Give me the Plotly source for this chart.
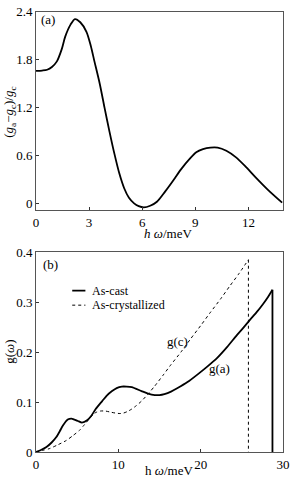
import plotly.graph_objects as go

# Panel (a): (g_a - g_c)/g_c vs h*omega
a_x = [0, 0.35, 0.63, 0.9, 1.18, 1.45, 1.65, 1.95, 2.2, 2.5, 2.85, 3.1, 3.3, 3.6, 3.87, 4.15, 4.43, 4.7, 4.98, 5.25, 5.54, 5.8, 6.09, 6.45, 6.83, 7.3, 7.76, 8.2, 8.69, 9.05, 9.43, 9.85, 10.26, 10.75, 11.28, 11.8, 12.39, 13.1, 13.9]
a_y = [1.66, 1.665, 1.675, 1.71, 1.78, 1.93, 2.09, 2.24, 2.31, 2.27, 2.15, 1.97, 1.78, 1.50, 1.20, 0.90, 0.62, 0.38, 0.19, 0.07, 0.0, -0.035, -0.05, -0.03, 0.02, 0.15, 0.29, 0.43, 0.56, 0.64, 0.68, 0.70, 0.70, 0.66, 0.58, 0.47, 0.33, 0.17, 0.01]

# Panel (b): g(omega)
cast_x = [0, 0.6, 1.27, 1.9, 2.47, 2.9, 3.27, 3.86, 4.3, 4.66, 5.1, 5.58, 6.25, 6.7, 7.25, 8.04, 8.6, 9.24, 9.8, 10.43, 11.0, 11.63, 12.82, 13.6, 14.42, 15.0, 15.6, 16.4, 17.2, 18.4, 19.6, 20.8, 21.98, 23.2, 24.4, 25.2, 25.96, 26.8, 27.56, 28.2, 28.72]
cast_y = [0.0, 0.004, 0.01, 0.019, 0.03, 0.042, 0.053, 0.065, 0.067, 0.065, 0.062, 0.059, 0.064, 0.072, 0.086, 0.102, 0.113, 0.122, 0.128, 0.131, 0.131, 0.130, 0.122, 0.117, 0.114, 0.114, 0.116, 0.121, 0.128, 0.140, 0.155, 0.171, 0.188, 0.210, 0.234, 0.249, 0.264, 0.280, 0.296, 0.311, 0.325]
cast_cut_x = [28.72, 28.72]
cast_cut_y = [0.325, 0.0]

cryst_x = [0, 0.8, 1.67, 2.6, 3.67, 4.5, 5.26, 5.9, 6.45, 6.9, 7.25, 7.8, 8.44, 9.0, 9.64, 10.2, 10.63, 11.1, 11.63, 12.2, 12.82, 13.6, 14.42, 15.4, 16.4, 17.6, 18.8, 20.0, 21.2, 22.4, 23.57, 24.6, 25.8]
cryst_y = [0.0, 0.003, 0.007, 0.014, 0.023, 0.033, 0.043, 0.055, 0.066, 0.074, 0.079, 0.082, 0.082, 0.080, 0.078, 0.077, 0.078, 0.081, 0.086, 0.093, 0.102, 0.116, 0.132, 0.153, 0.175, 0.200, 0.227, 0.253, 0.280, 0.306, 0.333, 0.356, 0.385]
cryst_cut_x = [25.8, 25.8]
cryst_cut_y = [0.385, 0.0]

a_xticks = [0, 3, 6, 9, 12]
a_yticks = [0, 0.6, 1.2, 1.8, 2.4]
a_ytick_text = ["0", "0.6", "1.2", "1.8", "2.4"]
b_xticks = [0, 10, 20, 30]
b_yticks = [0, 0.1, 0.2, 0.3, 0.4]
b_ytick_text = ["0", "0.1", "0.2", "0.3", "0.4"]

legend_names = ["As-cast", "As-crystallized"]

FONT = "Liberation Serif, Times New Roman, serif"
fig = go.Figure()

solid = dict(color="black", width=1.8)
dotted = dict(color="black", width=1, dash="dot")

fig.add_trace(go.Scatter(x=a_x, y=a_y, mode="lines", line=dict(**solid, shape="spline", smoothing=0.8),
                         showlegend=False, xaxis="x", yaxis="y"))
fig.add_trace(go.Scatter(x=cast_x, y=cast_y, mode="lines", line=dict(**solid, shape="spline", smoothing=0.6),
                         name=legend_names[0], showlegend=False, xaxis="x2", yaxis="y2"))
fig.add_trace(go.Scatter(x=cast_cut_x, y=cast_cut_y, mode="lines", line=solid,
                         showlegend=False, xaxis="x2", yaxis="y2"))
fig.add_trace(go.Scatter(x=cryst_x, y=cryst_y, mode="lines", line=dict(**dotted, shape="spline", smoothing=0.6),
                         name=legend_names[1], showlegend=False, xaxis="x2", yaxis="y2"))
fig.add_trace(go.Scatter(x=cryst_cut_x, y=cryst_cut_y, mode="lines", line=dotted,
                         showlegend=False, xaxis="x2", yaxis="y2"))

axis_common = dict(showgrid=False, zeroline=False, showline=True, linecolor="#555", linewidth=1,
                   mirror=True, ticks="inside", ticklen=3, tickcolor="#333",
                   tickfont=dict(family=FONT, size=13, color="black"))

fig.update_layout(
    width=294, height=478,
    margin=dict(l=36, r=7, t=4, b=26),
    paper_bgcolor="white", plot_bgcolor="white",
    font=dict(family=FONT, size=13, color="black"),
    xaxis=dict(domain=[0, 1], range=[0, 13.95], tickvals=a_xticks, anchor="y", **axis_common),
    yaxis=dict(domain=[0.548, 0.998], range=[-0.087, 2.4], tickvals=a_yticks, ticktext=a_ytick_text, anchor="x", **axis_common),
    xaxis2=dict(domain=[0, 1], range=[0, 30], tickvals=b_xticks, anchor="y2", **axis_common),
    yaxis2=dict(domain=[0, 0.453], range=[0, 0.4], tickvals=b_yticks, ticktext=b_ytick_text, anchor="x2", **axis_common),
)

# manual legend samples
fig.add_shape(type="line", xref="x2", yref="y2", x0=4.4, x1=6.0, y0=0.323, y1=0.323, line=solid)
fig.add_shape(type="line", xref="x2", yref="y2", x0=4.4, x1=6.0, y0=0.294, y1=0.294, line=dotted)

ann = [
    dict(text="(a)", x=0.15, y=2.3, xref="x", yref="y", xanchor="left", yanchor="middle"),
    dict(text="(b)", x=0.6, y=0.375, xref="x2", yref="y2", xanchor="left", yanchor="middle"),
    dict(text=legend_names[0], x=6.6, y=0.323, xref="x2", yref="y2", xanchor="left", yanchor="middle", font=dict(family=FONT, size=12, color="black")),
    dict(text=legend_names[1], x=6.6, y=0.294, xref="x2", yref="y2", xanchor="left", yanchor="middle", font=dict(family=FONT, size=12, color="black")),
    dict(text="g(c)", x=17.2, y=0.222, xref="x2", yref="y2", xanchor="center", yanchor="middle"),
    dict(text="g(a)", x=22.3, y=0.167, xref="x2", yref="y2", xanchor="center", yanchor="middle"),
    dict(text="<i>h ω</i>/meV", x=0.535, y=0.496, xref="paper", yref="paper", xanchor="center", yanchor="middle"),
    dict(text="h <i>ω</i>/meV", x=0.54, y=-0.041, xref="paper", yref="paper", xanchor="center", yanchor="middle"),
    dict(text="(<i>g</i><sub>a</sub>−<i>g</i><sub>c</sub>)/<i>g</i><sub>c</sub>", x=-0.108, y=0.77, xref="paper", yref="paper",
         xanchor="center", yanchor="middle", textangle=-90),
    dict(text="g(<i>ω</i>)", x=-0.108, y=0.228, xref="paper", yref="paper", xanchor="center", yanchor="middle", textangle=-90),
]
for a in ann:
    a.setdefault("showarrow", False)
    a.setdefault("font", dict(family=FONT, size=13, color="black"))
    fig.add_annotation(**a)

fig.write_html("out.html")
